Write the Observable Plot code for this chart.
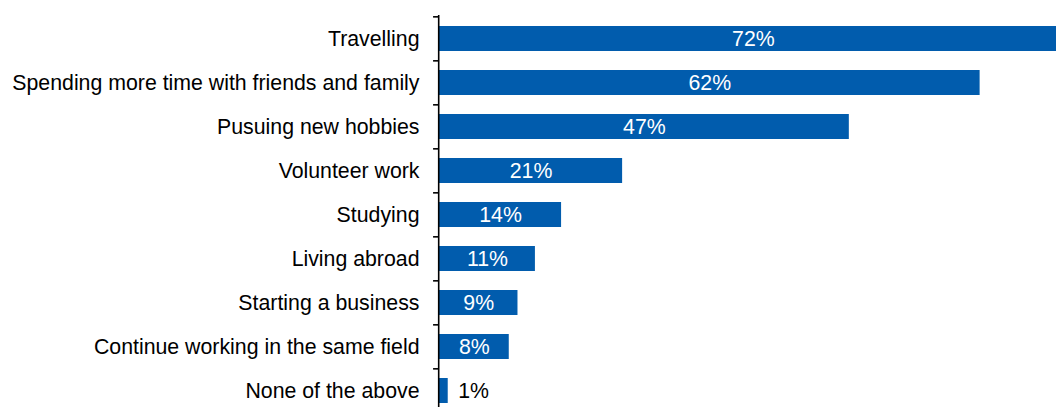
<!DOCTYPE html>
<html>
<head>
<meta charset="utf-8">
<script src="https://cdn.jsdelivr.net/npm/d3@7"></script>
<script src="https://cdn.jsdelivr.net/npm/@observablehq/plot@0.6"></script>
<style>
  html, body { margin: 0; padding: 0; background: #fff; }
  #chart svg { display: block; }
</style>
</head>
<body>
<div id="chart"></div>
<script>
const categories = [
  "Travelling",
  "Spending more time with friends and family",
  "Pusuing new hobbies",
  "Volunteer work",
  "Studying",
  "Living abroad",
  "Starting a business",
  "Continue working in the same field",
  "None of the above"
];
const values = [72, 62, 47, 21, 14, 11, 9, 8, 1];
const valueLabels = ["72%", "62%", "47%", "21%", "14%", "11%", "9%", "8%", "1%"];

const data = categories.map((c, i) => ({category: c, value: values[i], label: valueLabels[i]}));
const inside = data.filter(d => d.value >= 5);
const outside = data.filter(d => d.value < 5);

const blue = "#015cad";
const font = "Liberation Sans, Arial, sans-serif";
const fs = 21.3;
const step = (414 - 15) / categories.length;

const chart = Plot.plot({
  width: 1056,
  height: 407,
  marginLeft: 439,
  marginRight: 0,
  marginTop: 15,
  marginBottom: 0,
  style: {fontFamily: font, fontSize: fs + "px", color: "#000", background: "#fff"},
  x: {domain: [0, 70.76], range: [439, 1056], axis: null},
  y: {domain: categories, range: [15, 414], paddingInner: 0.436, paddingOuter: 0.218, axis: null, label: null},
  marks: [
    Plot.barX(data, {y: "category", x: "value", fill: blue}),
    Plot.ruleX([0], {stroke: "#000", strokeWidth: 1.6, dx: -0.8}),
    Plot.ruleY(categories, {y: d => d, x1: -0.68, x2: -0.1, stroke: "#000", strokeWidth: 1.6, dy: -step / 2}),
    Plot.axisY({tickSize: 0, tickPadding: 20, fontSize: fs, fill: "#000", textAnchor: "end", label: null}),
    Plot.text(inside, {y: "category", x: d => d.value / 2, text: "label", fill: "#fff", fontSize: fs, textAnchor: "middle"}),
    Plot.text(outside, {y: "category", x: "value", text: "label", fill: "#000", fontSize: fs, textAnchor: "start", dx: 10})
  ]
});
document.getElementById("chart").appendChild(chart);
</script>
</body>
</html>
